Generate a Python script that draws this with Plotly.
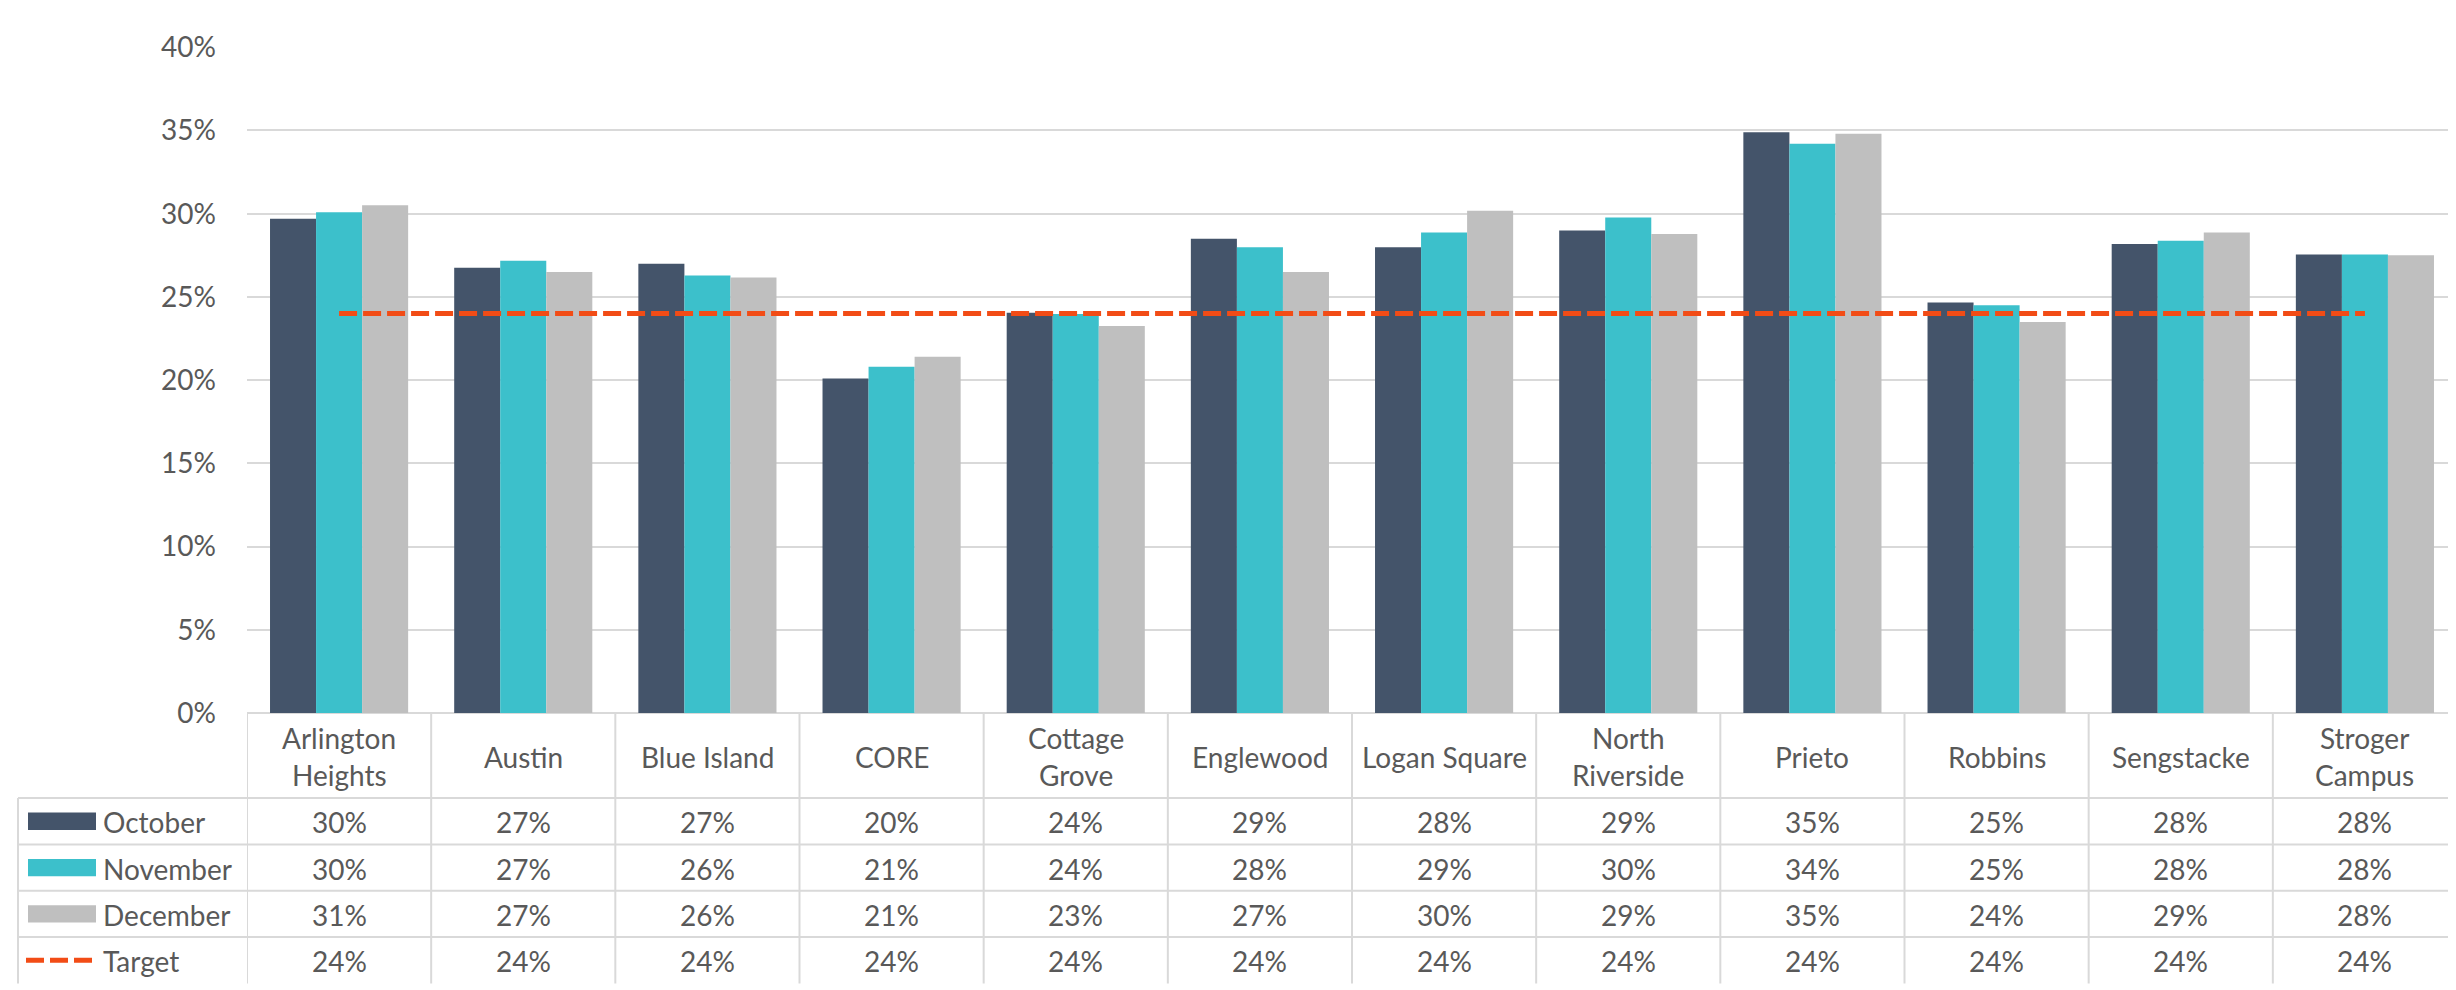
import math
import plotly.graph_objects as go

# ---------------- data ----------------
categories = ["Arlington Heights", "Austin", "Blue Island", "CORE", "Cottage Grove",
              "Englewood", "Logan Square", "North Riverside", "Prieto", "Robbins",
              "Sengstacke", "Stroger Campus"]
header_labels = ["Arlington<br>Heights", "Austin", "Blue Island", "CORE", "Cottage<br>Grove",
                 "Englewood", "Logan Square", "North<br>Riverside", "Prieto", "Robbins",
                 "Sengstacke", "Stroger<br>Campus"]
october = [29.7, 26.75, 27.0, 20.1, 24.05, 28.5, 27.98, 28.99, 34.9, 24.67, 28.18, 27.55]
november = [30.08, 27.18, 26.28, 20.8, 23.98, 27.98, 28.87, 29.77, 34.2, 24.5, 28.37, 27.55]
december = [30.5, 26.5, 26.16, 21.4, 23.25, 26.5, 30.18, 28.78, 34.8, 23.5, 28.87, 27.5]
target = [24, 24, 24, 24, 24, 24, 24, 24, 24, 24, 24, 24]
series_names = ["October", "November", "December", "Target"]
y_ticks = [0, 5, 10, 15, 20, 25, 30, 35, 40]
y_tick_labels = ["0%", "5%", "10%", "15%", "20%", "25%", "30%", "35%", "40%"]

# ---------------- style ----------------
W, H = 2456, 990
C_OCT = "#44546A"
C_NOV = "#3CC0CB"
C_DEC = "#BFBFBF"
C_TGT = "#F24C16"
TXT = "#595959"
GRID = "#D9D9D9"
FONT = "Lato"
FS = 28

PLOT_L, PLOT_R = 239, 2449      # pixel x of plot area
PLOT_T, PLOT_B = 22, 711.5      # pixel y of 40% and 0%
ROW_Y = [799.5, 847.5, 895.5, 943.5, 991.5]  # table row boundaries (px)


def px(p):
    return p / W


def py(p):
    return 1 - p / H


def half_up(v):
    return int(math.floor(v + 0.5))


n = len(categories)
xs = list(range(n))

fig = go.Figure()
for name, vals, col in [("October", october, C_OCT), ("November", november, C_NOV),
                        ("December", december, C_DEC)]:
    fig.add_trace(go.Bar(x=xs, y=vals, name=name, marker=dict(color=col, line=dict(width=0)),
                         showlegend=False))
fig.add_trace(go.Scatter(x=xs, y=target, name="Target", mode="lines",
                         line=dict(color=C_TGT, width=5, dash="18px,6px"), showlegend=False))

shapes = []
annots = []
line_style = dict(color=GRID, width=2)

# vertical table lines at category boundaries
for i in range(n + 1):
    shapes.append(dict(type="line", xref="x", yref="paper", x0=i - 0.5, x1=i - 0.5,
                       y0=py(PLOT_B), y1=py(ROW_Y[-1]), line=line_style, layer="above"))
# left border of legend column
shapes.append(dict(type="line", xref="paper", yref="paper", x0=px(10), x1=px(10),
                   y0=py(ROW_Y[0]), y1=py(ROW_Y[-1]), line=line_style))
# horizontal row lines
for yy in ROW_Y[:-1]:
    shapes.append(dict(type="line", xref="paper", yref="paper", x0=px(10), x1=px(PLOT_R),
                       y0=py(yy), y1=py(yy), line=line_style))

# header: category names
for i, lab in enumerate(header_labels):
    parts = lab.split("<br>")
    if len(parts) == 1:
        ys = [755.5]
    else:
        ys = [736.5, 774.5]
    for part, yy in zip(parts, ys):
        annots.append(dict(x=i, xref="x", y=py(yy + 1), yref="paper", text=part,
                           showarrow=False, xanchor="center", yanchor="middle",
                           font=dict(family=FONT, size=FS, color=TXT)))

# data rows
rows = [october, november, december, target]
colors = [C_OCT, C_NOV, C_DEC, C_TGT]
for r, (vals, name, col) in enumerate(zip(rows, series_names, colors)):
    yc = (ROW_Y[r] + ROW_Y[r + 1]) / 2
    for i, v in enumerate(vals):
        annots.append(dict(x=i, xref="x", y=py(yc + 1), yref="paper", text=f"{half_up(v)}%",
                           showarrow=False, xanchor="center", yanchor="middle",
                           font=dict(family=FONT, size=FS, color=TXT)))
    # legend key
    if name == "Target":
        shapes.append(dict(type="line", xref="paper", yref="paper", x0=px(18), x1=px(84),
                           y0=py(yc), y1=py(yc), line=dict(color=col, width=5, dash="18px,6px")))
    else:
        shapes.append(dict(type="rect", xref="paper", yref="paper", x0=px(20), x1=px(88),
                           y0=py(yc - 9), y1=py(yc + 9), fillcolor=col, line=dict(width=0)))
    annots.append(dict(x=px(93), xref="paper", y=py(yc + 1), yref="paper", text=name,
                       showarrow=False, xanchor="left", yanchor="middle",
                       font=dict(family=FONT, size=FS, color=TXT)))

fig.update_layout(
    width=W, height=H,
    margin=dict(l=0, r=0, t=0, b=0),
    paper_bgcolor="white", plot_bgcolor="white",
    barmode="group", bargap=0.25, bargroupgap=0,
    font=dict(family=FONT, size=FS, color=TXT),
    showlegend=False,
    xaxis=dict(domain=[px(PLOT_L), px(PLOT_R)], range=[-0.5, n - 0.5],
               showticklabels=False, showgrid=False, zeroline=False,
               showline=False, ticks=""),
    yaxis=dict(domain=[py(PLOT_B), py(PLOT_T)], range=[0, 40],
               tickmode="array", tickvals=y_ticks, ticktext=y_tick_labels,
               showgrid=True, gridcolor=GRID,
               gridwidth=2, zeroline=True, zerolinecolor=GRID, zerolinewidth=2,
               showline=False, ticks="", ticklabelstandoff=30,
               tickfont=dict(family=FONT, size=FS, color=TXT)),
    shapes=shapes,
    annotations=annots,
)

fig.write_html("out.html")
